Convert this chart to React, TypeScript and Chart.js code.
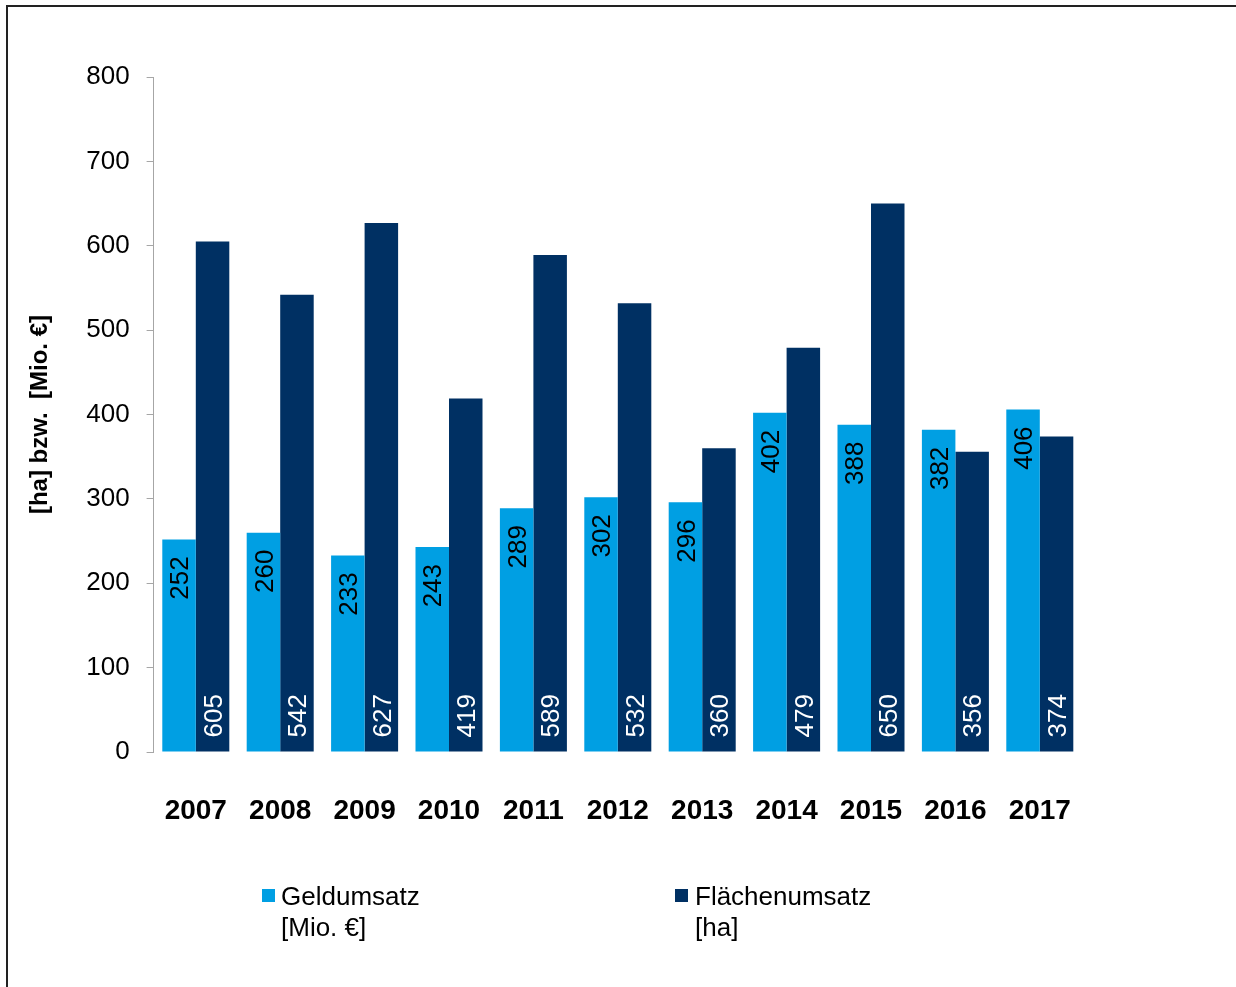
import React, { useEffect, useRef } from "react";
import { Chart, registerables } from "chart.js";

Chart.register(...registerables);

const years = ["2007", "2008", "2009", "2010", "2011", "2012", "2013", "2014", "2015", "2016", "2017"];
const geldumsatz = [252, 260, 233, 243, 289, 302, 296, 402, 388, 382, 406];
const flaechenumsatz = [605, 542, 627, 419, 589, 532, 360, 479, 650, 356, 374];
const yTicks = [0, 100, 200, 300, 400, 500, 600, 700, 800];

const LIGHT = "rgb(0,159,227)";
const DARK = "rgb(0,48,99)";
const FONT = "'Liberation Sans', Arial, sans-serif";

const labelPlugin = {
  id: "barLabels",
  afterDatasetsDraw(chart: any) {
    const ctx = chart.ctx;
    chart.data.datasets.forEach((ds: any, di: number) => {
      const meta = chart.getDatasetMeta(di);
      meta.data.forEach((el: any, i: number) => {
        const p = el.getProps(["x", "y", "base"], true);
        ctx.save();
        ctx.font = `26px ${FONT}`;
        ctx.textBaseline = "middle";
        if (di === 0) {
          ctx.fillStyle = "#000";
          ctx.translate(p.x + 2, p.y + 17);
          ctx.rotate(-Math.PI / 2);
          ctx.textAlign = "right";
        } else {
          ctx.fillStyle = "#fff";
          ctx.translate(p.x + 2, p.base - 14);
          ctx.rotate(-Math.PI / 2);
          ctx.textAlign = "left";
        }
        ctx.fillText(String(ds.data[i]), 0, 0);
        ctx.restore();
      });
    });
  },
};

export default function App() {
  const ref = useRef<HTMLCanvasElement | null>(null);

  useEffect(() => {
    if (!ref.current) return;
    const chart = new Chart(ref.current, {
      type: "bar",
      data: {
        labels: years,
        datasets: [
          { label: "Geldumsatz [Mio. €]", data: geldumsatz, backgroundColor: LIGHT, categoryPercentage: 0.794, barPercentage: 1 },
          { label: "Flächenumsatz [ha]", data: flaechenumsatz, backgroundColor: DARK, categoryPercentage: 0.794, barPercentage: 1 },
        ],
      },
      options: {
        animation: false,
        responsive: false,
        devicePixelRatio: 1,
        layout: { padding: { left: 20, top: 77, right: 154, bottom: 160 } },
        plugins: { legend: { display: false }, tooltip: { enabled: false } },
        scales: {
          x: {
            grid: { display: false, drawTicks: false },
            border: { display: false },
            ticks: { color: "#000", font: { family: FONT, size: 28, weight: "bold" }, padding: 42, maxRotation: 0 },
            afterFit: (s: any) => { s.height = 75; },
          },
          y: {
            min: 0,
            max: 800,
            afterBuildTicks: (s: any) => { s.ticks = yTicks.map((v) => ({ value: v })); },
            grid: { display: true, drawOnChartArea: false, drawTicks: true, tickLength: 7, color: "#a6a6a6" },
            border: { display: true, color: "#a6a6a6", width: 1 },
            ticks: { color: "#000", font: { family: FONT, size: 26 }, padding: 17 },
            title: {
              display: true,
              text: "[ha] bzw.  [Mio. €]",
              color: "#000",
              font: { family: FONT, size: 24, weight: "bold" },
              padding: { top: 6, bottom: 0 },
            },
            afterFit: (s: any) => { s.width = 133.6; },
          },
        },
      },
      plugins: [labelPlugin],
    });
    return () => chart.destroy();
  }, []);

  const legendText: React.CSSProperties = { fontFamily: FONT, fontSize: 26, lineHeight: "31px", color: "#000" };
  const marker = (c: string): React.CSSProperties => ({ position: "absolute", width: 13, height: 13, background: c });

  return (
    <div style={{ position: "absolute", left: 0, top: 0, width: 1236, height: 987, overflow: "hidden", background: "#fff" }}>
      <div style={{ position: "absolute", left: 6, top: 5, width: 1400, height: 1200, border: "2px solid #222", boxSizing: "border-box" }} />
      <canvas ref={ref} width={1236} height={987} style={{ position: "absolute", left: 0, top: 0, width: 1236, height: 987 }} />
      <div style={{ ...marker(LIGHT), left: 262, top: 889 }} />
      <div style={{ ...legendText, position: "absolute", left: 281, top: 881 }}>
        Geldumsatz<br />[Mio. €]
      </div>
      <div style={{ ...marker(DARK), left: 675, top: 889 }} />
      <div style={{ ...legendText, position: "absolute", left: 695, top: 881 }}>
        Flächenumsatz<br />[ha]
      </div>
    </div>
  );
}
